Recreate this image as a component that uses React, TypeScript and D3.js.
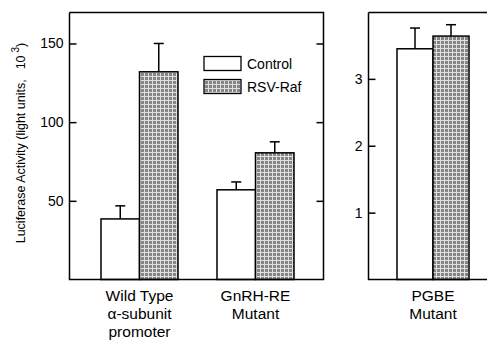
import React, { useEffect, useRef } from 'react';
import * as d3 from 'd3';

// left panel (thousands of light units)
const categories = ['Wild Type', 'GnRH-RE'];
const controlValues = [38.5, 57];
const controlErrors = [8.3, 5];
const rafValues = [132, 80.5];
const rafErrors = [18, 7];
const leftTicks = [50, 100, 150];

// right panel
const rightCategories = ['PGBE'];
const rightControl = [3.45];
const rightControlErr = [0.31];
const rightRaf = [3.64];
const rightRafErr = [0.17];
const rightTicks = [1, 2, 3];

const seriesNames = ['Control', 'RSV-Raf'];
const catLabels: Record<string, string[]> = {
  'Wild Type': ['Wild Type', 'α-subunit', 'promoter'],
  'GnRH-RE': ['GnRH-RE', 'Mutant'],
  PGBE: ['PGBE', 'Mutant'],
};

const font = 'Liberation Sans, Arial, sans-serif';

export default function App() {
  const ref = useRef<SVGSVGElement>(null);

  useEffect(() => {
    const svg = d3.select(ref.current);
    svg.selectAll('*').remove();

    const defs = svg.append('defs');
    const pat = defs.append('pattern')
      .attr('id', 'hatch')
      .attr('patternUnits', 'userSpaceOnUse')
      .attr('width', 4).attr('height', 4);
    pat.append('rect').attr('width', 4).attr('height', 4).attr('fill', '#858585');
    pat.append('rect').attr('width', 4).attr('height', 1).attr('fill', '#e0e0e0');
    pat.append('rect').attr('width', 1).attr('height', 4).attr('fill', '#e0e0e0');

    const fills = ['#fff', 'url(#hatch)'];

    const drawPanel = (opts: {
      cats: string[]; ctrl: number[]; ctrlErr: number[]; raf: number[]; rafErr: number[];
      ticks: number[]; domainMax: number; left: number; frameRight: number;
      groupRange: [number, number]; barW: number; rightAxis: boolean;
    }) => {
      const top = 12, bottom = 279.5;
      const y = d3.scaleLinear().domain([0, opts.domainMax]).range([bottom, top]);
      const x = d3.scaleBand<string>().domain(opts.cats).range(opts.groupRange).padding(0);
      const g = svg.append('g');

      opts.cats.forEach((c, i) => {
        const cx = (x(c) as number) + x.bandwidth() / 2;
        const inner = d3.scaleBand<string>().domain(seriesNames)
          .range([cx - opts.barW, cx + opts.barW]);
        const vals = [opts.ctrl[i], opts.raf[i]];
        const errs = [opts.ctrlErr[i], opts.rafErr[i]];
        seriesNames.forEach((s, j) => {
          const bx = inner(s) as number;
          const bw = inner.bandwidth();
          const mid = bx + bw / 2;
          g.append('line')
            .attr('x1', mid).attr('x2', mid)
            .attr('y1', y(vals[j])).attr('y2', y(vals[j] + errs[j]))
            .attr('stroke', '#000').attr('stroke-width', 1.5);
          g.append('line')
            .attr('x1', mid - 5).attr('x2', mid + 5)
            .attr('y1', y(vals[j] + errs[j])).attr('y2', y(vals[j] + errs[j]))
            .attr('stroke', '#000').attr('stroke-width', 1.5);
          g.append('rect')
            .attr('x', bx).attr('width', bw)
            .attr('y', y(vals[j])).attr('height', y(0) - y(vals[j]))
            .attr('fill', fills[j]).attr('stroke', '#000').attr('stroke-width', 1.5);
        });
        (catLabels[c] || [c]).forEach((t, k) => {
          g.append('text')
            .attr('x', cx).attr('y', 301 + k * 18)
            .attr('text-anchor', 'middle')
            .attr('font-family', font).attr('font-size', 15.5)
            .text(t);
        });
      });

      // frame
      g.append('path')
        .attr('d', `M${opts.left},${top + 0.5}H${opts.frameRight}` +
          (opts.rightAxis ? `V${bottom}` : `M${opts.frameRight},${bottom}`) +
          `H${opts.left}V${top + 0.5}`)
        .attr('fill', 'none').attr('stroke', '#000').attr('stroke-width', 1.5);

      const ax = g.append('g')
        .attr('transform', `translate(${opts.left},0)`)
        .call(d3.axisLeft(y).tickValues(opts.ticks).tickFormat(d3.format('d'))
          .tickSizeInner(-7).tickSizeOuter(0).tickPadding(6));
      ax.select('.domain').remove();
      ax.selectAll('line').attr('stroke-width', 1.5);
      ax.selectAll('text').attr('font-family', font).attr('font-size', 14).attr('fill', '#000');

      if (opts.rightAxis) {
        const ax2 = g.append('g')
          .attr('transform', `translate(${opts.frameRight},0)`)
          .call(d3.axisRight(y).tickValues(opts.ticks).tickSizeInner(-7).tickSizeOuter(0).tickFormat(() => ''));
        ax2.select('.domain').remove();
        ax2.selectAll('line').attr('stroke-width', 1.5);
      }
    };

    drawPanel({
      cats: categories, ctrl: controlValues, ctrlErr: controlErrors, raf: rafValues, rafErr: rafErrors,
      ticks: leftTicks, domainMax: 170, left: 69.5, frameRight: 323.5,
      groupRange: [81.5, 313.5], barW: 38.5, rightAxis: true,
    });
    drawPanel({
      cats: rightCategories, ctrl: rightControl, ctrlErr: rightControlErr, raf: rightRaf, rafErr: rightRafErr,
      ticks: rightTicks, domainMax: 4, left: 368.5, frameRight: 492,
      groupRange: [383, 483], barW: 36, rightAxis: false,
    });

    // legend
    const lg = svg.append('g');
    seriesNames.forEach((s, j) => {
      lg.append('rect')
        .attr('x', 204).attr('y', 56.5 + j * 23).attr('width', 37).attr('height', 14)
        .attr('fill', fills[j]).attr('stroke', '#000').attr('stroke-width', 1.3);
      lg.append('text')
        .attr('x', 247).attr('y', 68.5 + j * 23)
        .attr('font-family', font).attr('font-size', 14)
        .text(s);
    });

    // y label
    const yl = svg.append('text')
      .attr('transform', 'translate(25,143) rotate(-90)')
      .attr('text-anchor', 'middle')
      .attr('font-family', font).attr('font-size', 12.5);
    yl.append('tspan').text('Luciferase Activity (light units,');
    yl.append('tspan').attr('dx', 10).text('10');
    yl.append('tspan').attr('dx', 3).attr('dy', -6).attr('font-size', 10).text('3');
    yl.append('tspan').attr('dy', 6).text(')');
  }, []);

  return (
    <svg ref={ref} width={487} height={344}
      style={{ position: 'absolute', left: 0, top: 0, background: '#fff' }} />
  );
}
